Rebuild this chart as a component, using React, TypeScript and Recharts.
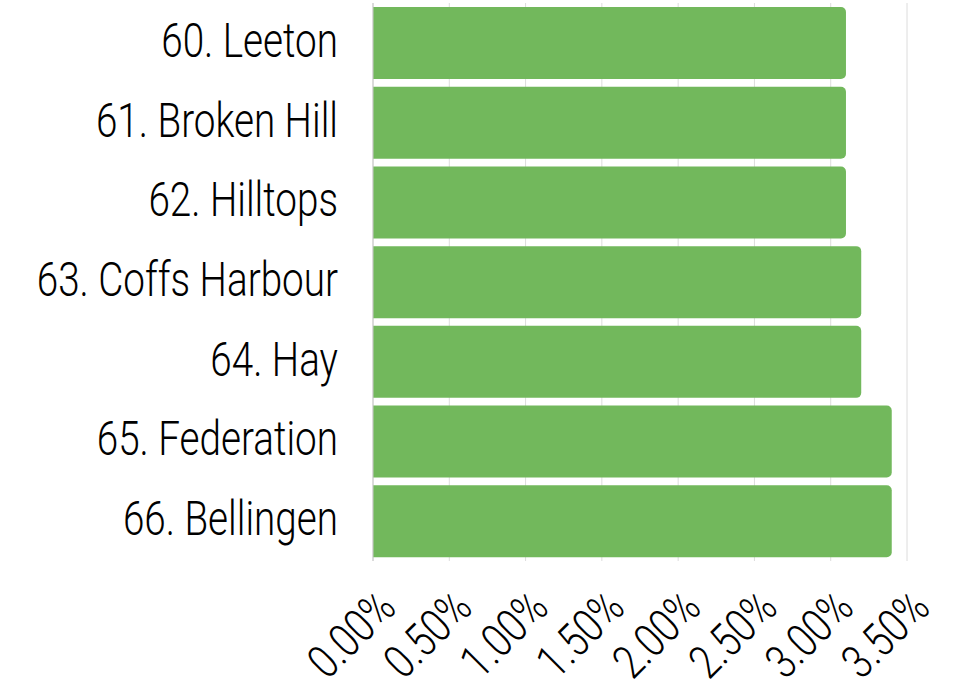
import { BarChart, Bar, XAxis, YAxis, CartesianGrid } from "recharts";

const councils = [
  "60. Leeton",
  "61. Broken Hill",
  "62. Hilltops",
  "63. Coffs Harbour",
  "64. Hay",
  "65. Federation",
  "66. Bellingen",
];
const rates = [3.1, 3.1, 3.1, 3.2, 3.2, 3.4, 3.4];
const xTicks = [0, 0.5, 1, 1.5, 2, 2.5, 3, 3.5];

const chartData = councils.map((name, i) => ({ name, rate: rates[i] }));

// no condensed font installed, so squeeze Roboto horizontally
const FONT = "Roboto, sans-serif";
const SQUEEZE = 0.805;

const XTick = (props: any) => {
  const { x, y, payload } = props;
  const px = x + 25;
  const py = y + 49;
  return (
    <text
      transform={`translate(${px}, ${py}) rotate(-45) scale(${SQUEEZE}, 1)`}
      textAnchor="end"
      fontFamily={FONT}
      fontWeight={300}
      fontSize={47}
      fill="#000"
    >
      {`${Number(payload.value).toFixed(2)}%`}
    </text>
  );
};

const YTick = (props: any) => {
  const { x, y, payload } = props;
  return (
    <text
      transform={`translate(${x}, ${y - 3}) scale(${SQUEEZE}, 1)`}
      textAnchor="end"
      dy="0.355em"
      fontFamily={FONT}
      fontWeight={300}
      fontSize={48}
      fill="#000"
    >
      {payload.value}
    </text>
  );
};

export default function App() {
  return (
    <div style={{ position: "absolute", left: 0, top: 0, background: "#fff" }}>
      <BarChart
        width={973}
        height={692}
        data={chartData}
        layout="vertical"
        margin={{ top: 3, right: 66, bottom: 0, left: 0 }}
        barCategoryGap={4}
      >
        <CartesianGrid horizontal={false} stroke="#dcdcdc" />
        <XAxis
          type="number"
          domain={[0, 3.5]}
          ticks={xTicks}
          interval={0}
          axisLine={false}
          tickLine={false}
          tickSize={0}
          tickMargin={0}
          height={131}
          tick={<XTick />}
        />
        <YAxis
          type="category"
          dataKey="name"
          width={373}
          axisLine={{ stroke: "#c8c8c8" }}
          tickLine={false}
          tickSize={0}
          tickMargin={35}
          tick={<YTick />}
        />
        <Bar
          dataKey="rate"
          fill="#72B85C"
          radius={[0, 5, 5, 0]}
          isAnimationActive={false}
        />
      </BarChart>
    </div>
  );
}
